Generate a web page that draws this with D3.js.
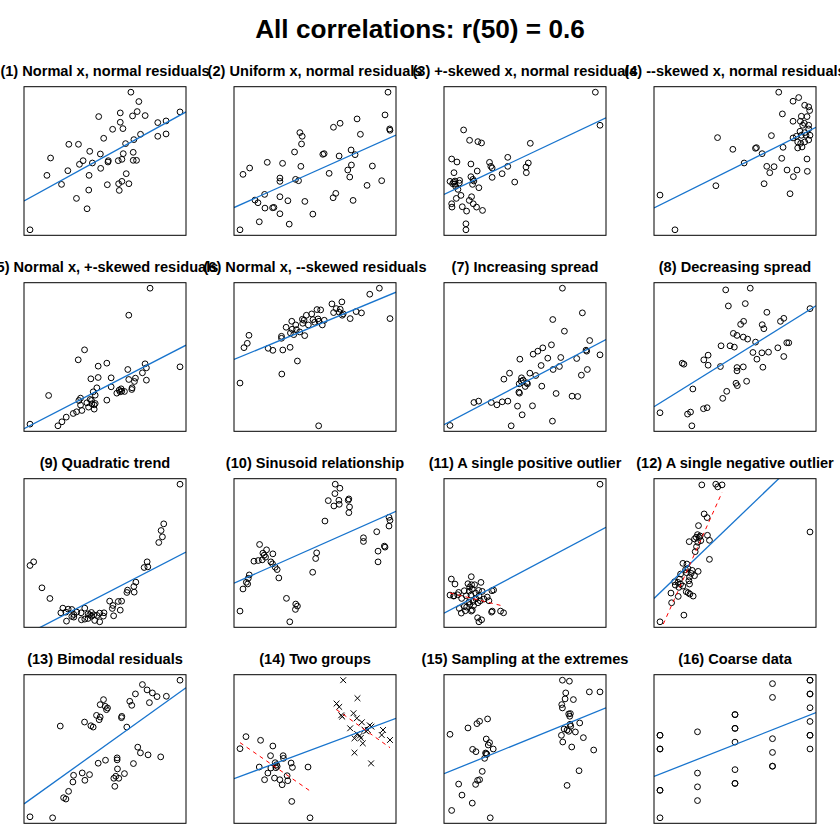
<!DOCTYPE html>
<html>
<head>
<meta charset="utf-8">
<script src="https://cdn.jsdelivr.net/npm/d3@7"></script>
<style>
  body { margin: 0; background: #fff; }
  svg { display: block; }
</style>
</head>
<body>
<div id="chart"></div>
<script>
const mainTitle = "All correlations: r(50) = 0.6"

const titles = [
  "(1) Normal x, normal residuals", "(2) Uniform x, normal residuals",
  "(3) +-skewed x, normal residuals", "(4) --skewed x, normal residuals",
  "(5) Normal x, +-skewed residuals", "(6) Normal x, --skewed residuals",
  "(7) Increasing spread", "(8) Decreasing spread",
  "(9) Quadratic trend", "(10) Sinusoid relationship",
  "(11) A single positive outlier", "(12) A single negative outlier",
  "(13) Bimodal residuals", "(14) Two groups",
  "(15) Sampling at the extremes", "(16) Coarse data"
]

// [x, y] values per panel
const p01 = [[321,429],[345,401],[340,371],[326,358],[364,359],[224,356],[289,367],[289,339],[469,370],[402,338],[427,343],[266,318],[297,320],[402,297],[427,304],[350,303],[330,287],[239,291],[305,275],[134,273],[163,273],[197,252],[229,244],[298,245],[328,249],[79,232],[177,224],[166,213],[205,217],[253,224],[252,220],[283,224],[294,228],[328,225],[338,225],[230,201],[131,194],[68,180],[195,180],[307,185],[112,153],[250,152],[284,155],[294,162],[315,155],[286,135],[194,136],[157,111],[189,80],[17,17]]
const p02 = [[464,429],[455,361],[469,319],[470,315],[371,349],[320,336],[300,324],[381,303],[199,308],[206,297],[204,274],[183,250],[268,243],[272,245],[317,238],[353,256],[365,242],[101,219],[147,216],[202,207],[354,211],[417,208],[48,202],[28,183],[287,186],[343,196],[349,175],[139,172],[139,162],[186,168],[195,164],[445,164],[401,150],[93,123],[64,106],[73,98],[139,116],[163,104],[214,102],[307,126],[299,113],[359,105],[94,82],[117,83],[121,84],[139,65],[238,64],[77,41],[167,34],[19,17]]
const p03 = [[454,429],[468,330],[57,316],[75,285],[100,281],[111,277],[258,276],[21,229],[37,220],[79,214],[135,219],[139,207],[143,202],[190,234],[190,207],[252,217],[245,205],[246,188],[98,193],[28,188],[173,185],[143,174],[79,176],[85,168],[16,162],[31,163],[45,165],[30,154],[44,157],[33,147],[84,153],[103,143],[211,160],[40,138],[49,120],[35,111],[81,116],[74,105],[21,95],[22,85],[86,95],[96,85],[53,86],[66,73],[114,75],[64,35],[64,17],[27,160],[88,163],[24,155]]
const p04 = [[375,429],[435,413],[418,402],[453,390],[465,385],[468,374],[386,364],[443,357],[460,356],[418,342],[440,342],[452,336],[447,330],[465,330],[439,312],[465,319],[453,308],[418,292],[428,297],[443,300],[457,300],[469,300],[353,299],[191,293],[432,280],[441,276],[453,280],[465,286],[388,264],[432,262],[445,265],[237,258],[305,261],[308,263],[325,245],[384,231],[460,229],[271,217],[339,207],[361,206],[348,188],[400,196],[430,196],[461,192],[419,176],[331,155],[186,149],[409,125],[18,121],[63,17]]
const p05 = [[378,429],[314,348],[181,244],[162,214],[248,204],[222,195],[311,185],[363,202],[367,190],[468,193],[355,175],[200,157],[222,161],[261,160],[314,155],[334,159],[331,149],[367,153],[218,130],[261,133],[73,107],[207,118],[213,108],[169,99],[164,92],[198,95],[248,93],[169,78],[203,82],[210,79],[193,72],[210,66],[278,114],[285,123],[291,127],[301,119],[323,125],[293,120],[173,62],[157,58],[147,53],[126,42],[113,28],[101,16],[17,21],[288,118],[324,130],[202,92],[213,83],[188,85]]
const p06 = [[438,429],[409,411],[470,338],[295,382],[325,388],[250,365],[261,364],[308,368],[320,366],[300,356],[317,357],[329,352],[368,359],[384,355],[218,348],[350,338],[326,348],[211,333],[238,335],[253,337],[272,333],[256,330],[243,327],[224,319],[266,319],[174,330],[186,319],[207,324],[157,312],[175,306],[188,305],[198,298],[170,295],[180,290],[213,287],[143,285],[143,279],[45,288],[40,264],[30,251],[103,249],[117,243],[147,244],[169,252],[191,211],[144,172],[18,145],[255,17],[206,336],[234,352]]
const p07 = [[355,429],[415,355],[326,335],[361,300],[437,272],[322,259],[296,250],[281,240],[267,231],[426,243],[428,240],[468,229],[227,216],[311,219],[350,221],[398,218],[291,197],[327,185],[346,194],[430,185],[412,168],[196,174],[179,156],[257,174],[275,167],[232,160],[237,153],[225,142],[250,142],[243,134],[293,135],[224,117],[226,114],[336,113],[384,105],[401,104],[89,86],[103,90],[141,86],[158,79],[174,88],[191,90],[220,75],[265,76],[234,49],[325,30],[201,16],[17,17],[248,145],[231,150]]
const p08 = [[290,428],[216,423],[224,375],[275,382],[340,356],[470,367],[391,338],[381,329],[270,329],[261,320],[326,319],[331,307],[239,293],[250,287],[269,282],[282,276],[306,267],[202,256],[229,256],[242,252],[373,250],[400,265],[406,265],[163,228],[150,214],[163,198],[298,236],[325,235],[345,237],[391,224],[310,216],[85,204],[90,201],[200,194],[250,191],[269,193],[328,192],[250,181],[279,150],[247,144],[251,137],[117,127],[219,120],[207,99],[149,68],[160,71],[101,52],[110,58],[18,56],[114,17]]
const p09 = [[468,428],[419,309],[411,289],[415,270],[404,253],[369,195],[371,180],[360,178],[16,184],[27,195],[335,134],[329,121],[310,110],[308,103],[330,104],[52,117],[76,85],[256,77],[266,64],[282,76],[292,77],[264,55],[288,50],[268,33],[115,56],[131,53],[142,52],[109,42],[124,44],[148,37],[157,44],[181,56],[201,43],[142,31],[148,29],[171,21],[181,23],[191,25],[201,32],[208,36],[226,41],[239,42],[237,32],[211,19],[226,15],[126,17],[196,36],[191,39],[218,34],[170,42]]
const p10 = [[305,428],[319,416],[304,400],[284,379],[316,380],[346,384],[344,380],[301,363],[317,368],[348,360],[346,343],[274,318],[467,329],[470,320],[467,303],[430,286],[390,268],[390,257],[453,243],[455,240],[434,228],[434,196],[77,248],[98,232],[87,222],[91,216],[117,220],[60,198],[73,200],[85,202],[111,196],[116,190],[124,180],[130,173],[249,223],[246,206],[237,165],[135,148],[46,157],[43,147],[37,135],[41,130],[27,115],[158,87],[186,70],[191,64],[185,54],[18,49],[168,17],[95,210]]
const p11 = [[21,144],[32,129],[81,151],[110,134],[71,130],[82,127],[91,127],[76,120],[84,114],[75,108],[43,104],[60,109],[17,96],[29,94],[52,86],[80,96],[94,102],[114,107],[148,111],[143,109],[104,94],[95,85],[129,90],[119,84],[134,79],[108,79],[86,77],[74,75],[77,68],[101,73],[60,62],[45,56],[63,49],[51,42],[84,51],[81,48],[144,48],[142,45],[169,48],[178,43],[100,28],[112,22],[104,16],[40,97],[28,93],[67,60],[88,65],[66,94],[103,110]]
const p11out = [[468,428]]
const p12 = [[144,427],[186,429],[192,421],[205,427],[151,340],[160,329],[134,305],[131,278],[127,270],[139,274],[161,276],[167,261],[106,257],[132,255],[128,242],[124,227],[167,204],[87,192],[102,177],[133,168],[112,162],[98,164],[107,151],[122,155],[77,145],[62,137],[72,135],[64,127],[107,130],[87,124],[75,120],[51,103],[73,93],[103,104],[108,100],[118,94],[53,74],[90,37],[18,17],[99,190],[136,270],[141,260],[95,173],[80,160],[115,171],[97,107],[80,130],[105,140],[122,265]]
const p12out = [[470,286]]
const p13 = [[468,428],[355,415],[369,399],[385,390],[399,379],[427,380],[334,387],[317,365],[323,353],[376,361],[238,370],[228,355],[243,350],[250,345],[247,340],[217,323],[228,318],[225,310],[293,320],[292,316],[181,303],[200,292],[207,288],[108,291],[308,288],[341,228],[349,211],[372,205],[410,199],[279,196],[279,190],[244,189],[222,180],[328,179],[280,163],[301,149],[275,141],[269,135],[284,135],[272,111],[174,151],[196,146],[148,144],[182,129],[146,124],[133,96],[118,77],[125,73],[85,17],[17,20]]
const p14a = [[36,259],[18,223],[80,248],[117,231],[110,202],[148,202],[149,194],[124,181],[130,170],[126,166],[172,180],[176,167],[76,168],[111,165],[102,150],[160,142],[223,168],[92,130],[122,135],[138,130],[145,115],[162,127],[174,65],[229,16],[128,175]]
const p14b = [[329,428],[372,374],[309,358],[317,348],[323,323],[326,319],[360,329],[370,314],[385,302],[409,293],[414,289],[403,279],[350,284],[393,280],[398,275],[449,279],[445,264],[371,267],[379,262],[382,255],[470,249],[363,254],[388,239],[363,211],[413,179]]
const p15 = [[355,428],[376,425],[436,393],[468,393],[365,390],[363,372],[388,370],[353,355],[355,345],[374,327],[379,328],[377,320],[380,290],[407,300],[369,279],[374,275],[394,273],[352,263],[418,256],[356,243],[383,228],[449,219],[405,157],[369,113],[130,312],[106,305],[98,298],[71,285],[17,266],[126,252],[136,241],[132,234],[147,222],[85,221],[95,214],[124,210],[128,206],[121,194],[114,155],[106,130],[100,128],[94,116],[43,117],[53,84],[84,60],[22,38],[138,16],[126,208],[378,296],[360,282]]
const p16 = [[1,24],[1,24],[1,20],[1,20],[1,8],[1,8],[1,0],[2,25],[2,13],[2,9],[2,5],[3,30],[3,30],[3,26],[3,26],[3,22],[3,14],[3,10],[3,10],[4,39],[4,35],[4,23],[4,19],[4,15],[4,15],[5,40],[5,40],[5,36],[5,36],[5,32],[5,28],[5,24],[5,24],[5,20]]

const panels = [
  {pts: p01}, {pts: p02}, {pts: p03}, {pts: p04},
  {pts: p05}, {pts: p06}, {pts: p07}, {pts: p08},
  {pts: p09}, {pts: p10},
  {pts: p11.concat(p11out), dashed: [p11]},
  {pts: p12.concat(p12out), dashed: [p12]},
  {pts: p13},
  {pts: p14a, crosses: p14b, dashed: [p14a, p14b]},
  {pts: p15}, {pts: p16}
]

const canvas = {width: 840, height: 840, top: 56, cellW: 210, cellH: 196,
  margin: {top: 30.7, bottom: 16.7, left: 24, right: 24}}

const svg = d3.select("#chart").append("svg")
  .attr("width", canvas.width).attr("height", canvas.height)
  .style("font-family", "'Liberation Sans', Arial, Helvetica, sans-serif")

svg.append("text").attr("x", canvas.width / 2).attr("y", 37.5)
  .attr("text-anchor", "middle").attr("font-weight", "bold")
  .attr("font-size", "26.2px").text(mainTitle)

function fit(pts){
  const mx = d3.mean(pts, d => d[0]), my = d3.mean(pts, d => d[1])
  const b = d3.sum(pts, d => (d[0] - mx) * (d[1] - my)) / d3.sum(pts, d => (d[0] - mx) ** 2)
  return {a: my - b * mx, b}
}

function padded(vals){
  const [lo, hi] = d3.extent(vals)
  const r = hi - lo
  return [lo - 0.04 * r, hi + 0.04 * r]
}

panels.forEach((p, i) => {
  const col = i % 4, row = Math.floor(i / 4)
  const x0 = col * canvas.cellW + canvas.margin.left
  const x1 = (col + 1) * canvas.cellW - canvas.margin.right
  const y0 = canvas.top + row * canvas.cellH + canvas.margin.top
  const y1 = canvas.top + (row + 1) * canvas.cellH - canvas.margin.bottom
  const all = p.pts.concat(p.crosses || [])

  const xScale = d3.scaleLinear().domain(padded(all.map(d => d[0]))).range([x0, x1])
  const yScale = d3.scaleLinear().domain(padded(all.map(d => d[1]))).range([y1, y0])

  const g = svg.append("g")
  const clipId = "clip" + i
  g.append("clipPath").attr("id", clipId).append("rect")
    .attr("x", x0).attr("y", y0).attr("width", x1 - x0).attr("height", y1 - y0)

  g.selectAll("circle").data(p.pts).join("circle")
    .attr("cx", d => xScale(d[0])).attr("cy", d => yScale(d[1])).attr("r", 2.9)
    .attr("fill", "none").attr("stroke", "#000").attr("stroke-width", 1)

  if (p.crosses) {
    const s = 2.9
    g.selectAll("path.cross").data(p.crosses).join("path").attr("class", "cross")
      .attr("d", d => {
        const cx = xScale(d[0]), cy = yScale(d[1])
        return `M${cx - s},${cy - s}L${cx + s},${cy + s}M${cx - s},${cy + s}L${cx + s},${cy - s}`
      })
      .attr("stroke", "#000").attr("stroke-width", 1).attr("fill", "none")
  }

  const lines = g.append("g").attr("clip-path", `url(#${clipId})`)
  const f = fit(all)
  const xd = xScale.domain()
  lines.append("line")
    .attr("x1", xScale(xd[0])).attr("y1", yScale(f.a + f.b * xd[0]))
    .attr("x2", xScale(xd[1])).attr("y2", yScale(f.a + f.b * xd[1]))
    .attr("stroke", "#1874CD").attr("stroke-width", 1.3)

  ;(p.dashed || []).forEach(sub => {
    const fs = fit(sub)
    const [lo, hi] = d3.extent(sub, d => d[0])
    lines.append("line")
      .attr("x1", xScale(lo)).attr("y1", yScale(fs.a + fs.b * lo))
      .attr("x2", xScale(hi)).attr("y2", yScale(fs.a + fs.b * hi))
      .attr("stroke", "red").attr("stroke-width", 1).attr("stroke-dasharray", "4,4")
  })

  g.append("rect").attr("x", x0).attr("y", y0)
    .attr("width", x1 - x0).attr("height", y1 - y0)
    .attr("fill", "none").attr("stroke", "#000").attr("stroke-width", 1)

  svg.append("text").attr("x", (x0 + x1) / 2).attr("y", y0 - 11)
    .attr("text-anchor", "middle").attr("font-weight", "bold")
    .attr("font-size", "14.6px").text(titles[i])
})
</script>
</body>
</html>
